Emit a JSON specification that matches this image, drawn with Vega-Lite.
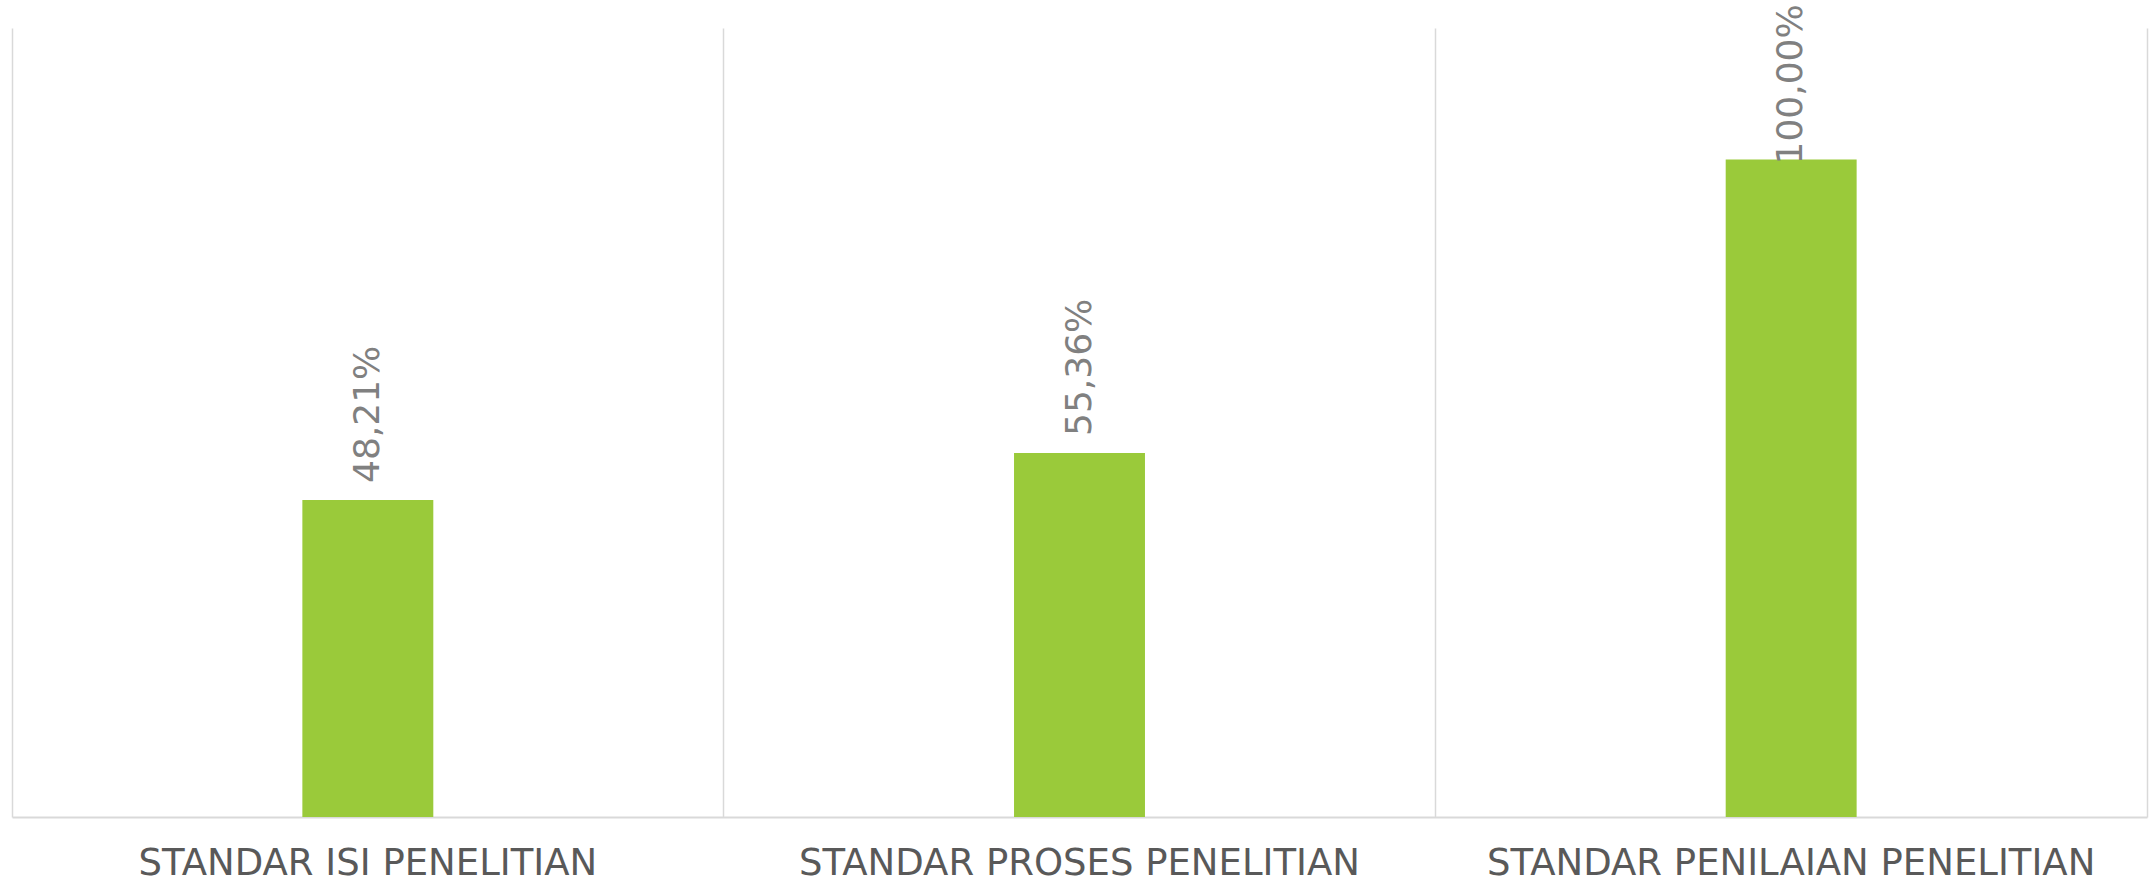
{
  "$schema": "https://vega.github.io/schema/vega-lite/v6.json",
  "width": 2135,
  "height": 789,
  "autosize": {"type": "none"},
  "padding": {"left": 12, "top": 28, "right": 7, "bottom": 65},
  "background": "white",
  "config": {
    "view": {"stroke": null},
    "locale": {"number": {"decimal": ",", "thousands": ".", "grouping": [3], "currency": ["", " €"]}},
    "font": "DejaVu Sans"
  },
  "data": {
    "values": [
      {"kategori": "STANDAR ISI PENELITIAN", "nilai": 0.4821},
      {"kategori": "STANDAR PROSES PENELITIAN", "nilai": 0.5536},
      {"kategori": "STANDAR PENILAIAN PENELITIAN", "nilai": 1.0}
    ]
  },
  "encoding": {
    "x": {
      "field": "kategori",
      "type": "nominal",
      "sort": null,
      "scale": {"paddingInner": 0, "paddingOuter": 0},
      "axis": {
        "title": null,
        "labelAngle": 0,
        "labelFont": "DejaVu Sans",
        "labelFontSize": 37,
        "labelColor": "#595959",
        "labelBaseline": "alphabetic",
        "labelPadding": 57,
        "labelLimit": 0,
        "ticks": false,
        "domain": true,
        "domainColor": "#d9d9d9",
        "domainWidth": 2,
        "grid": true,
        "gridColor": "#d9d9d9",
        "gridWidth": 1.5,
        "bandPosition": 0
      }
    },
    "y": {
      "field": "nilai",
      "type": "quantitative",
      "scale": {"domain": [0, 1.2], "nice": false},
      "axis": {
        "orient": "right",
        "title": null,
        "labels": false,
        "ticks": false,
        "grid": false,
        "domain": true,
        "domainColor": "#d9d9d9",
        "domainWidth": 1.5
      }
    }
  },
  "layer": [
    {
      "mark": {"type": "bar", "color": "#9aca3a", "width": {"band": 0.184}}
    },
    {
      "transform": [{"filter": "datum.nilai < 1"}],
      "mark": {"type": "text", "angle": -90, "align": "left", "baseline": "middle", "dx": 17, "font": "DejaVu Sans", "fontSize": 36, "color": "#808080"},
      "encoding": {"text": {"field": "nilai", "type": "quantitative", "format": ".2%"}}
    },
    {
      "transform": [{"filter": "datum.nilai >= 1"}],
      "mark": {"type": "text", "angle": -90, "align": "left", "baseline": "middle", "dx": -5, "font": "DejaVu Sans", "fontSize": 36, "color": "#808080"},
      "encoding": {"text": {"field": "nilai", "type": "quantitative", "format": ".2%"}}
    }
  ]
}
